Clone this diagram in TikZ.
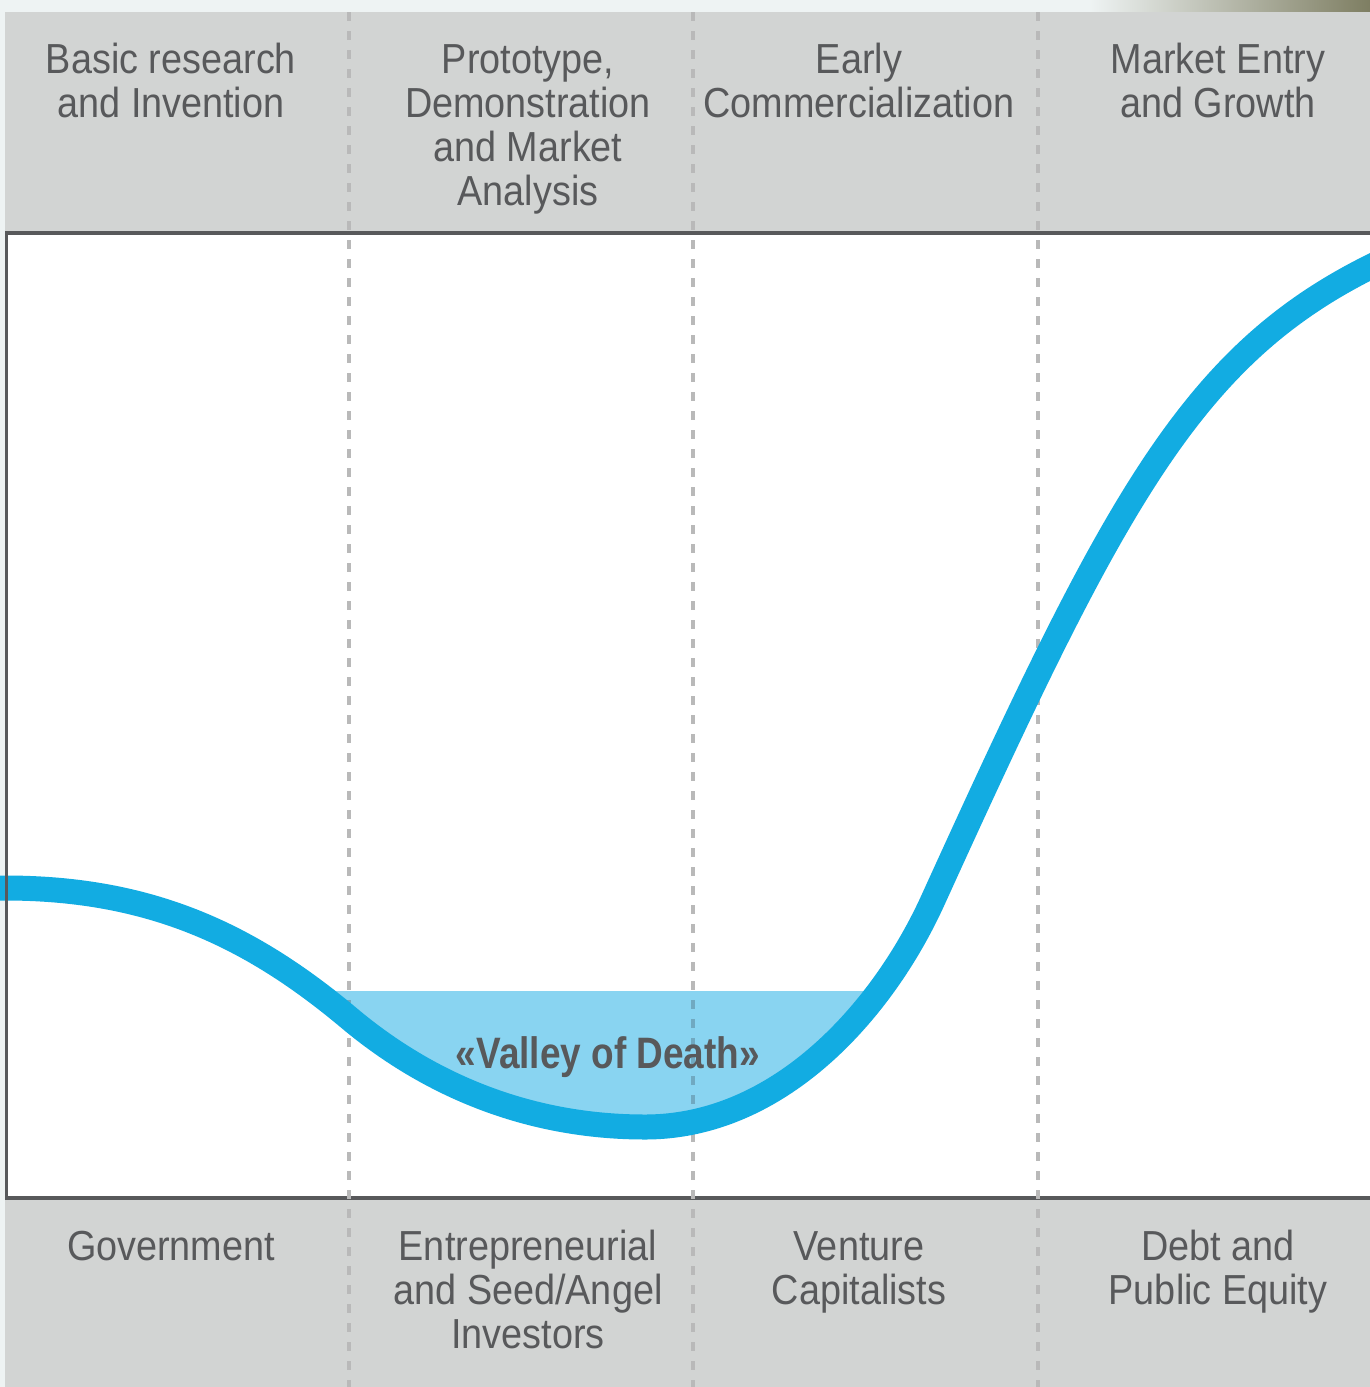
\documentclass[tikz,border=0pt]{standalone}
\usepackage{fontspec}
\setmainfont{Liberation Sans}[FakeStretch=0.9]
\newfontfamily\valleyfont{Liberation Sans}[FakeStretch=0.84]
\definecolor{hdrgray}{HTML}{D2D4D3}
\definecolor{txtgray}{HTML}{58595B}
\definecolor{linedark}{HTML}{58595B}
\definecolor{dashgray}{HTML}{B9B9B9}
\definecolor{valleydash}{HTML}{70A9C1}
\definecolor{curveblue}{HTML}{12ACE2}
\definecolor{valleyblue}{HTML}{89D4F1}
\definecolor{edgebg}{HTML}{EEF3F3}
\definecolor{tanmid}{HTML}{D3C8AE}
\definecolor{tandark}{HTML}{7E7E62}
\begin{document}
\begin{tikzpicture}[x=1pt,y=-1pt,
  lbl/.style={text=txtgray, align=center, anchor=base, inner sep=0pt,
              font=\fontsize{42}{44}\selectfont},
  valleylbl/.style={text=txtgray, anchor=base, inner sep=0pt,
              font=\valleyfont\bfseries\fontsize{44}{46}\selectfont},
  divider/.style={line width=4pt, dash pattern=on 8.5pt off 10.5pt},
  frameline/.style={draw=linedark, line width=4pt},
  curveline/.style={draw=curveblue, line width=25pt}]
\def\curvepath{(0,888) -- (5,888) .. controls (150,888) and (250,935) .. (349,1018)
  .. controls (430,1086) and (530,1127) .. (645,1127)
  .. controls (780,1127) and (883,1010) .. (933,900)
  .. controls (1113,504) and (1190,357) .. (1370,267) -- (1410,247)}
\useasboundingbox (0,0) rectangle (1370,1387);
% outer background
\fill[edgebg] (0,0) rectangle (1370,1387);
\shade[left color=edgebg, middle color=tanmid, right color=tandark] (1090,0) rectangle (1370,12);
% header and footer bands
\fill[hdrgray] (5,12) rectangle (1370,233);
\fill[hdrgray] (5,1198) rectangle (1370,1387);
% plot area
\fill[white] (5,233) rectangle (1370,1198);
% valley fill
\begin{scope}
  \clip (0,991) rectangle (1370,1198);
  \fill[valleyblue] \curvepath -- (1410,233) -- (0,233) -- cycle;
\end{scope}
% frame lines
\draw[frameline] (5,233) -- (1370,233);
\draw[frameline] (5,1198) -- (1370,1198);
% dividers
\coordinate (d1t) at (349,12);   \coordinate (d1b) at (349,1387);
\coordinate (d2t) at (693,12);   \coordinate (d2b) at (693,1387);
\coordinate (d3t) at (1038,12);  \coordinate (d3b) at (1038,1387);
\draw[divider, draw=dashgray] (d1t) -- (d1b) (d2t) -- (d2b) (d3t) -- (d3b);
\begin{scope}
  \clip (0,991) rectangle (1370,1198);
  \clip \curvepath -- (1410,233) -- (0,233) -- cycle;
  \draw[divider, draw=valleydash] (d1t) -- (d1b) (d2t) -- (d2b) (d3t) -- (d3b);
\end{scope}
% valley label
\node[valleylbl] (valley) at (608,1068) {«Valley of Death»};
% curve
\draw[curveline] \curvepath;
% left border
\draw[draw=linedark, line width=3pt] (6.5,233) -- (6.5,1198);
% header labels (anchor = baseline of last line)
\node[lbl] (h1) at (171,117) {Basic research\\and Invention};
\node[lbl] (h2) at (528,205) {Prototype,\\Demonstration\\and Market\\Analysis};
\node[lbl] (h3) at (859,117) {Early\\Commercialization};
\node[lbl] (h4) at (1218,117) {Market Entry\\and Growth};
% footer labels
\node[lbl] (f1) at (171,1260) {Government};
\node[lbl] (f2) at (528,1348) {Entrepreneurial\\and Seed/Angel\\Investors};
\node[lbl] (f3) at (859,1304) {Venture\\Capitalists};
\node[lbl] (f4) at (1218,1304) {Debt and\\Public Equity};
\end{tikzpicture}
\end{document}
